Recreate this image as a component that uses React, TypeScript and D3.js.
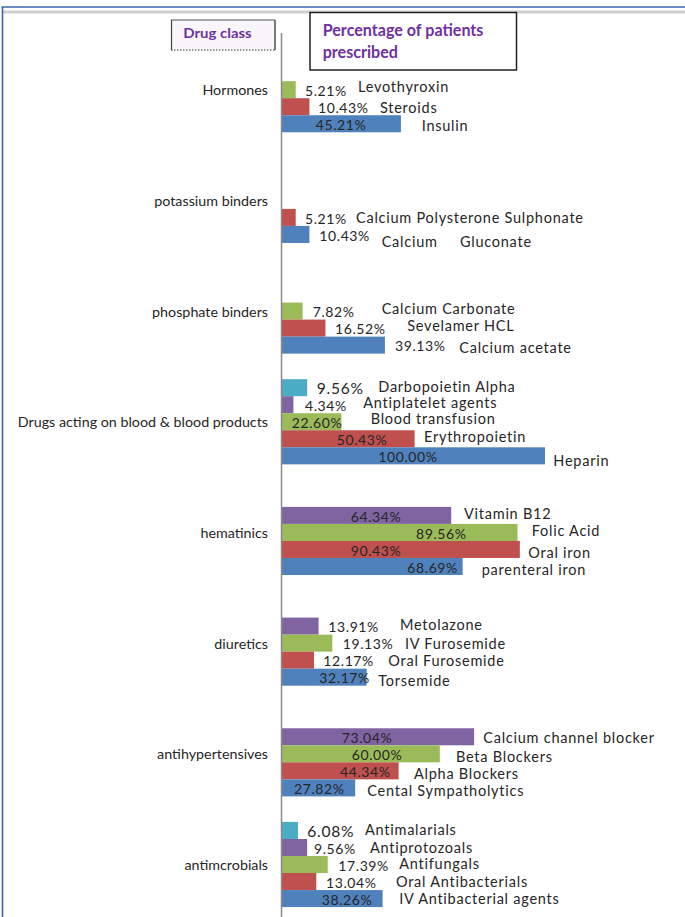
import React from 'react';
import * as d3 from 'd3';

const W = 685;
const H = 917;

// Drug classes, top to bottom
const drugClasses = [
  'Hormones',
  'potassium binders',
  'phosphate binders',
  'Drugs acting on blood & blood products',
  'hematinics',
  'diuretics',
  'antihypertensives',
  'antimcrobials',
];

// Series slots inside each class (top to bottom) and their fills
const seriesKeys = ['s5', 's4', 's3', 's2', 's1'];
const seriesColors = ['#4BACC6', '#8064A2', '#9BBB59', '#C0504D', '#4F81BD'];

// Individual drugs
const drugNames = [
  'Levothyroxin', 'Steroids', 'Insulin',
  'Calcium Polysterone Sulphonate', 'Calcium     Gluconate',
  'Calcium Carbonate', 'Sevelamer HCL', 'Calcium acetate',
  'Darbopoietin Alpha', 'Antiplatelet agents', 'Blood transfusion', 'Erythropoietin', 'Heparin',
  'Vitamin B12', 'Folic Acid', 'Oral iron', 'parenteral iron',
  'Metolazone', 'IV Furosemide', 'Oral Furosemide', 'Torsemide',
  'Calcium channel blocker', 'Beta Blockers', 'Alpha Blockers', 'Cental Sympatholytics',
  'Antimalarials', 'Antiprotozoals', 'Antifungals', 'Oral Antibacterials', 'IV Antibacterial agents',
];
const drugClassIndex = [
  0, 0, 0,
  1, 1,
  2, 2, 2,
  3, 3, 3, 3, 3,
  4, 4, 4, 4,
  5, 5, 5, 5,
  6, 6, 6, 6,
  7, 7, 7, 7, 7,
];
const drugSeries = [
  's3', 's2', 's1',
  's2', 's1',
  's3', 's2', 's1',
  's5', 's4', 's3', 's2', 's1',
  's4', 's3', 's2', 's1',
  's4', 's3', 's2', 's1',
  's4', 's3', 's2', 's1',
  's5', 's4', 's3', 's2', 's1',
];
const percentPrescribed = [
  5.21, 10.43, 45.21,
  5.21, 10.43,
  7.82, 16.52, 39.13,
  9.56, 4.34, 22.6, 50.43, 100.0,
  64.34, 89.56, 90.43, 68.69,
  13.91, 19.13, 12.17, 32.17,
  73.04, 60.0, 44.34, 27.82,
  6.08, 9.56, 17.39, 13.04, 38.26,
];

// Hand placed labels: [value label left, drug name left, name vertical nudge]
const labelSpots: [number, number, number][] = [
  [305, 358, -2.5], [318, 380, 0.8], [315.7, 421.7, 1.7],
  [305, 356, 1], [319.3, 381.7, 7.4],
  [312.7, 381.7, -2], [335, 407.3, -2.2], [395, 459.3, 3],
  [316.7, 378.3, -1], [305, 363.3, -1.8], [291.7, 370.7, -2.6], [336.7, 424, -1.7], [378.3, 553.3, 4.7],
  [350.7, 464, -1.1], [416, 531.7, -1.5], [350.7, 528.3, 3], [407.3, 481.7, 3.5],
  [328.3, 400, -1.6], [342.7, 405, 1.2], [323.3, 388.3, 0.8], [319.3, 378.3, 4.2],
  [341.7, 483.3, 1.3], [351.7, 456, 3], [340, 414, 3.3], [294, 367.3, 3.4],
  [307.3, 365, -0.3], [314, 370, 0.3], [338.3, 399.3, -0.3], [326, 396, 0.8], [321.7, 399.3, 0.5],
];
const largeValueLabels = ['Darbopoietin Alpha', 'Antimalarials'];

const FONT = 'Lato, "Open Sans", sans-serif';
const PURPLE = '#7030A0';
const TEXT = '#262626';

export default function App() {
  const axisX = 281.5;
  const x = d3.scaleLinear().domain([0, 100]).range([282, 545]);
  const yClass = d3.scaleBand<number>()
    .domain(d3.range(drugClasses.length))
    .range([34.35, 919.85])
    .paddingInner(0)
    .paddingOuter(0);
  const ySeries = d3.scaleBand<string>()
    .domain(seriesKeys)
    .range([0, yClass.bandwidth()])
    .paddingInner(0)
    .paddingOuter(0.75);
  const color = d3.scaleOrdinal<string, string>().domain(seriesKeys).range(seriesColors);

  const rows = drugNames.map((name, i) => {
    const y0 = (yClass(drugClassIndex[i]) ?? 0) + (ySeries(drugSeries[i]) ?? 0);
    return {
      name,
      value: percentPrescribed[i],
      series: drugSeries[i],
      y0,
      cy: y0 + ySeries.bandwidth() / 2,
      spot: labelSpots[i],
    };
  });

  return (
    <svg
      width={W}
      height={H}
      viewBox={`0 0 ${W} ${H}`}
      style={{ position: 'absolute', left: 0, top: 0, background: '#fff' }}
    >
      <rect x={0} y={0} width={W} height={H} fill="#fff" />
      {/* frame */}
      <rect x={3} y={10.5} width={W - 3} height={3} fill="#cfcfcf" />
      <line x1={1.5} x2={W} y1={7} y2={7} stroke="#3f62ad" strokeWidth={1.6} />
      <line x1={2.5} x2={2.5} y1={7} y2={H} stroke="#3f62ad" strokeWidth={1.6} />

      {/* bars */}
      {rows.map((r) => (
        <rect
          key={r.name}
          x={x(0)}
          y={r.y0}
          width={x(r.value) - x(0)}
          height={ySeries.bandwidth()}
          fill={color(r.series)}
        />
      ))}

      {/* category axis */}
      <line x1={axisX} x2={axisX} y1={33} y2={H} stroke="#8a8a8a" strokeWidth={1.5} />
      {drugClasses.map((c, i) => (
        <text
          key={c}
          x={268}
          y={(yClass(i) ?? 0) + yClass.bandwidth() / 2 + 0.5}
          dy="0.35em"
          textAnchor="end"
          fontFamily={FONT}
          fontSize={14.3}
          fill={TEXT}
        >
          {c}
        </text>
      ))}

      {/* value and name labels */}
      {rows.map((r) => {
        const big = largeValueLabels.includes(r.name);
        return (
          <g key={'l' + r.name} fontFamily={FONT} fill={TEXT}>
            <text
              x={r.spot[0]}
              y={r.cy + 1.2}
              dy="0.35em"
              fontSize={big ? 15.6 : 14}
              letterSpacing={big ? 0.75 : 0.6}
            >
              {r.value.toFixed(2) + '%'}
            </text>
            <text
              x={r.spot[1]}
              y={r.cy + r.spot[2]}
              dy="0.35em"
              fontSize={14.5}
              letterSpacing={0.75}
              style={{ whiteSpace: 'pre' }}
            >
              {r.name}
            </text>
          </g>
        );
      })}

      {/* header boxes */}
      <g>
        <rect x={171.5} y={20} width={103.5} height={30} fill="#f8f6fb" />
        <line x1={171} x2={275} y1={20} y2={20} stroke="#555" strokeWidth={1.2} />
        <line x1={171.5} x2={171.5} y1={20} y2={50} stroke="#444" strokeWidth={1.2} />
        <line x1={275} x2={275} y1={20} y2={50} stroke="#333" strokeWidth={1.3} />
        <line x1={171} x2={275} y1={50} y2={50} stroke="#333" strokeWidth={1.2} strokeDasharray="1.5 1.5" />
        <text
          x={183.3}
          y={38.3}
          fontFamily={FONT}
          fontWeight={700}
          fontSize={13.5}
          fill={PURPLE}
          textLength={68.4}
          lengthAdjust="spacingAndGlyphs"
        >
          Drug class
        </text>
      </g>
      <g>
        <rect x={310} y={12.5} width={206.5} height={57.5} fill="#fff" stroke="#222" strokeWidth={1.5} />
        <text x={322.7} y={36} fontFamily={FONT} fontWeight={700} fontSize={16.1} fill={PURPLE}>
          Percentage of patients
        </text>
        <text x={322.7} y={58} fontFamily={FONT} fontWeight={700} fontSize={16.1} fill={PURPLE}>
          prescribed
        </text>
      </g>
    </svg>
  );
}
